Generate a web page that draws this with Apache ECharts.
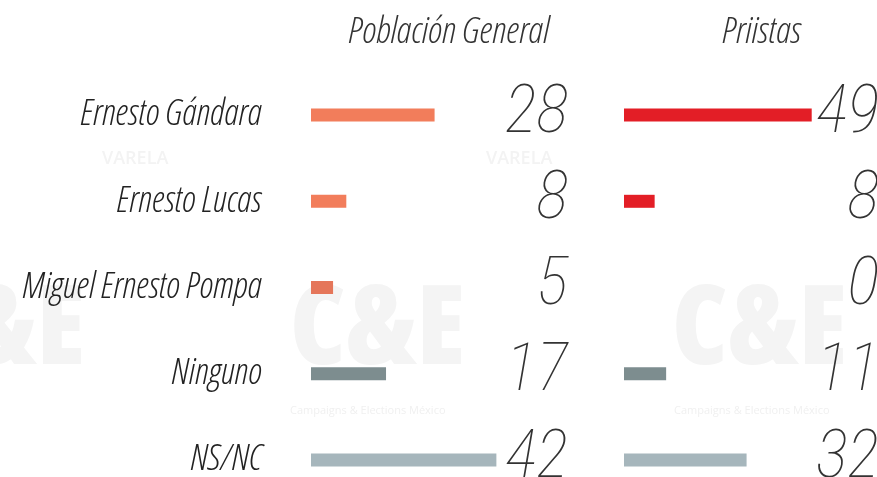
<!DOCTYPE html>
<html>
<head>
<meta charset="utf-8">
<script src="https://cdn.jsdelivr.net/npm/echarts@6/dist/echarts.min.js"></script>
<style>
html,body{margin:0;padding:0;background:#fff;}
#chart{width:877px;height:477px;}
</style>
</head>
<body>
<div id="chart"></div>
<script>
var categories = ['Ernesto Gándara', 'Ernesto Lucas', 'Miguel Ernesto Pompa', 'Ninguno', 'NS/NC'];
var poblacionGeneral = [28, 8, 5, 17, 42];
var priistas = [49, 8, 0, 11, 32];
var panelTitles = ['Población General', 'Priistas'];
var colorsLeft = ['#F27D5B', '#F27D5B', '#E5765A', '#7D8D8F', '#A6B6BC'];
var colorsRight = ['#E31E26', '#E31E26', '#E31E26', '#7D8D8F', '#A6B6BC'];

var TXT_FONT = '"Open Sans", sans-serif';
var TXT_WEIGHT = '300 condensed';
var NUM_FONT = 'Roboto, sans-serif';
var NUM_WEIGHT = '100 condensed';
var chart = echarts.init(document.getElementById('chart'));

function barData(vals, cols) {
  return vals.map(function (v, i) {
    return { value: v, itemStyle: { color: cols[i] } };
  });
}

var valueLabelStyle = {
  fontFamily: NUM_FONT, fontStyle: 'italic', fontWeight: NUM_WEIGHT, fontSize: 67, color: '#333',
  align: 'right', padding: [0, 0, 16, 0], interval: 0
};
function hiddenAxis(extra) {
  return Object.assign({ axisLine: { show: false }, axisTick: { show: false }, splitLine: { show: false } }, extra);
}
var WM = '#f4f4f4';
function wmText(x, y, text, size, weight, fill) {
  return { type: 'text', left: x, top: y, z: -10, silent: true,
    style: { text: text, fontFamily: '"Open Sans", sans-serif', fontWeight: weight || 800, fontSize: size, fill: fill || WM } };
}

chart.setOption({
  animation: false,
  backgroundColor: '#ffffff',
  graphic: [
    wmText(-90, 278, 'C&E', 110, '800 condensed'),
    wmText(290, 278, 'C&E', 110, '800 condensed'),
    wmText(672, 278, 'C&E', 110, '800 condensed'),
    wmText(290, 405, 'Campaigns & Elections México', 11, 400, '#f0f0f0'),
    wmText(674, 405, 'Campaigns & Elections México', 11, 400, '#f0f0f0'),
    wmText(102, 150, 'VARELA', 18, 600, '#f3f3f3'),
    wmText(486, 150, 'VARELA', 18, 600, '#f3f3f3')
  ],
  title: [
    { text: panelTitles[0], left: 444, top: 9, textAlign: 'center',
      textStyle: { fontFamily: TXT_FONT, fontStyle: 'italic', fontWeight: TXT_WEIGHT, fontSize: 37, color: '#333' } },
    { text: panelTitles[1], left: 757, top: 9, textAlign: 'center',
      textStyle: { fontFamily: TXT_FONT, fontStyle: 'italic', fontWeight: TXT_WEIGHT, fontSize: 37, color: '#333' } }
  ],
  grid: [
    { left: 311, top: 72, width: 256, height: 431, containLabel: false, outerBoundsMode: 'none' },
    { left: 624, top: 72, width: 249, height: 431, containLabel: false, outerBoundsMode: 'none' }
  ],
  xAxis: [
    { gridIndex: 0, type: 'value', min: 0, max: 58, show: false },
    { gridIndex: 1, type: 'value', min: 0, max: 65, show: false }
  ],
  yAxis: [
    hiddenAxis({ gridIndex: 0, type: 'category', data: categories, inverse: true, position: 'left',
      axisLabel: { fontFamily: TXT_FONT, fontStyle: 'italic', fontWeight: TXT_WEIGHT, fontSize: 36, color: '#222', margin: 49, interval: 0 } }),
    hiddenAxis({ gridIndex: 0, type: 'category', data: categories, inverse: true, position: 'right',
      axisLabel: Object.assign({ margin: 1, formatter: function (v, i) { return String(poblacionGeneral[i]); } }, valueLabelStyle) }),
    hiddenAxis({ gridIndex: 1, type: 'category', data: categories, inverse: true, position: 'left',
      axisLabel: { show: false } }),
    hiddenAxis({ gridIndex: 1, type: 'category', data: categories, inverse: true, position: 'right',
      axisLabel: Object.assign({ margin: 6, formatter: function (v, i) { return String(priistas[i]); } }, valueLabelStyle) })
  ],
  series: [
    { type: 'bar', xAxisIndex: 0, yAxisIndex: 0, barWidth: 13, data: barData(poblacionGeneral, colorsLeft) },
    { type: 'bar', xAxisIndex: 1, yAxisIndex: 2, barWidth: 13, data: barData(priistas, colorsRight) }
  ]
});
</script>
</body>
</html>
